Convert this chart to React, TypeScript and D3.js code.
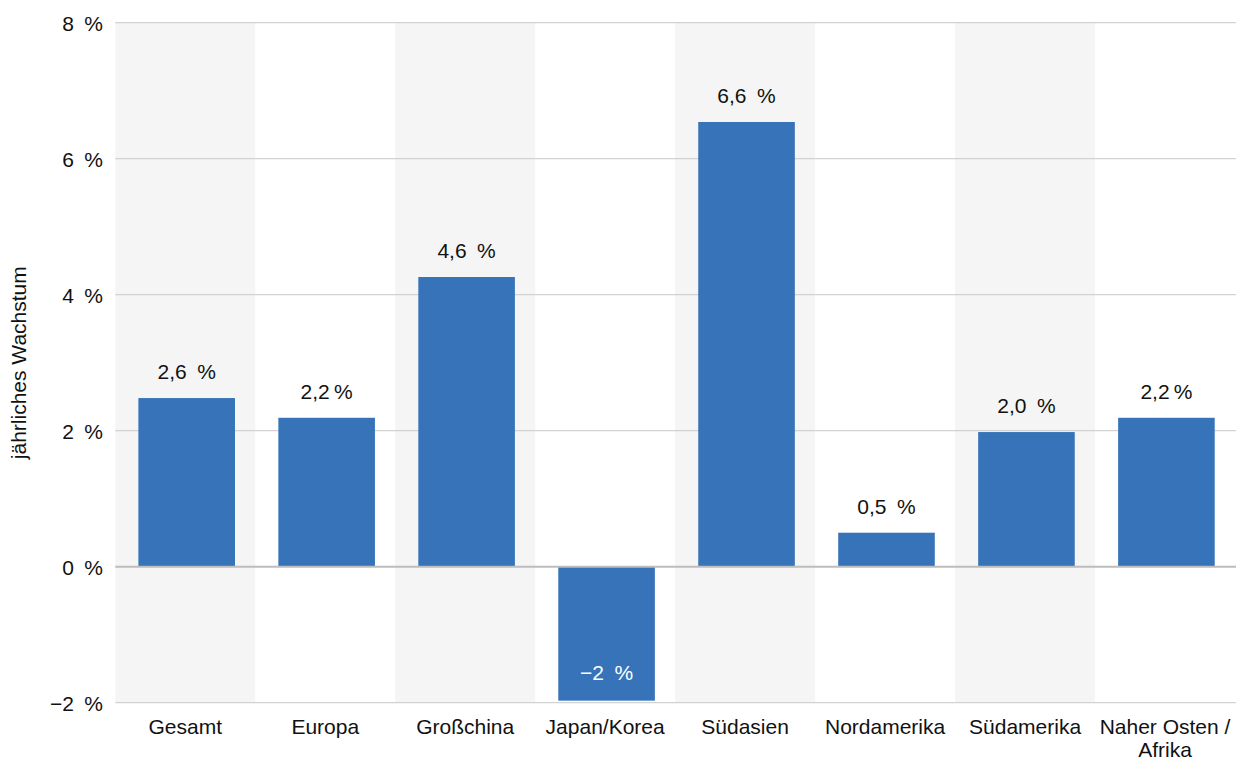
import React from "react";
import * as d3 from "d3";

const categories = ["Gesamt", "Europa", "Großchina", "Japan/Korea", "Südasien", "Nordamerika", "Südamerika", "Naher Osten / Afrika"];
const categoryLines = [["Gesamt"], ["Europa"], ["Großchina"], ["Japan/Korea"], ["Südasien"], ["Nordamerika"], ["Südamerika"], ["Naher Osten /", "Afrika"]];
const values = [2.48, 2.19, 4.26, -1.97, 6.54, 0.5, 1.98, 2.19];
const valueLabels = ["2,6\u2002%", "2,2\u2009%", "4,6\u2002%", "\u22122\u2002%", "6,6\u2002%", "0,5\u2002%", "2,0\u2002%", "2,2\u2009%"];
const yTicks = [-2, 0, 2, 4, 6, 8];
const yTickLabels = ["\u22122\u2002%", "0\u2002%", "2\u2002%", "4\u2002%", "6\u2002%", "8\u2002%"];
const yTitle = "jährliches Wachstum";

const W = 1236;
const H = 760;
const left = 115.3;
const right = 1236;
const plotRight = 1235;
const font = "'Liberation Sans', Arial, Helvetica, sans-serif";
const barColor = "#3673b8";
const fs = 21;

export default function App() {
  const x = d3.scaleBand<string>().domain(categories).range([left, plotRight]).padding(0);
  const y = d3.scaleLinear().domain([-2, 8]).range([702.7, 22.7]);
  const bw = x.bandwidth();
  const barW = bw * 0.69;
  const barOff = bw * 0.165;

  return (
    <div style={{ position: "absolute", left: 0, top: 0, width: W, height: H, background: "#fff" }}>
      <svg width={W} height={H} style={{ display: "block" }} fontFamily={font}>
        {categories.map((c, i) =>
          i % 2 === 0 ? (
            <rect key={"band" + c} x={x(c)} y={y(8)} width={bw} height={y(-2) - y(8)} fill="#f5f5f5" />
          ) : null
        )}
        {yTicks.map((t) =>
          t === 0 ? null : (
            <line key={"g" + t} x1={left} x2={right} y1={y(t)} y2={y(t)} stroke="#d2d2d2" strokeWidth={1.2} />
          )
        )}
        {categories.map((c, i) => {
          const v = values[i];
          const y0 = y(0);
          const y1 = y(v);
          return (
            <rect key={"bar" + c} x={(x(c) as number) + barOff} y={Math.min(y0, y1)} width={barW} height={Math.abs(y1 - y0)} fill={barColor} />
          );
        })}
        <line x1={left} x2={right} y1={y(0)} y2={y(0)} stroke="#bdbdbd" strokeWidth={2} />
        {yTicks.map((t, i) => (
          <text key={"yt" + t} x={103} y={y(t) + 7.8} textAnchor="end" fontSize={fs} fill="#111">
            {yTickLabels[i]}
          </text>
        ))}
        {categories.map((c, i) => {
          const v = values[i];
          const cx = (x(c) as number) + barOff + barW / 2;
          const ty = v >= 0 ? y(v) - 19 : y(v) - 21;
          return (
            <text key={"vl" + c} x={cx} y={ty} textAnchor="middle" fontSize={fs} fill={v >= 0 ? "#111" : "#fff"}>
              {valueLabels[i]}
            </text>
          );
        })}
        {categories.map((c, i) => (
          <text key={"cl" + c} x={(x(c) as number) + bw / 2} y={734} textAnchor="middle" fontSize={fs} fill="#111">
            {categoryLines[i].map((ln, j) => (
              <tspan key={j} x={(x(c) as number) + bw / 2} dy={j === 0 ? 0 : 23}>
                {ln}
              </tspan>
            ))}
          </text>
        ))}
        <text transform={`translate(26, ${(y(8) + y(-2)) / 2}) rotate(-90)`} textAnchor="middle" fontSize={fs} fill="#111">
          {yTitle}
        </text>
      </svg>
    </div>
  );
}
